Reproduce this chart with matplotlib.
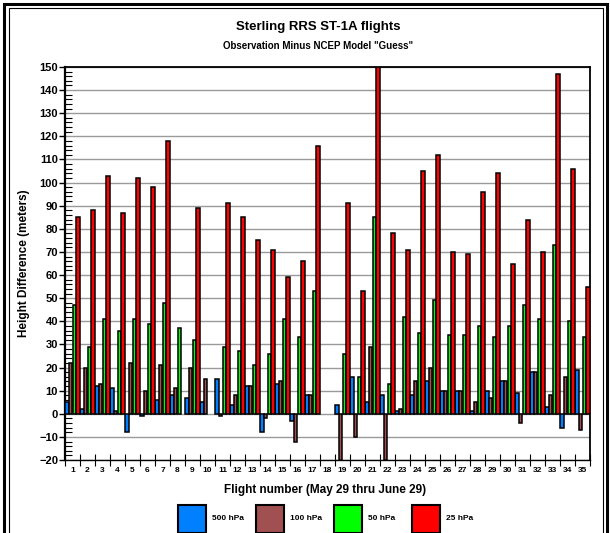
import numpy as np
import matplotlib
matplotlib.use("Agg")
import matplotlib.pyplot as plt
from matplotlib.patches import Rectangle
from matplotlib.ticker import MultipleLocator, FixedLocator, NullFormatter

plt.rcParams['font.family'] = ['Liberation Sans', 'DejaVu Sans']
plt.rcParams['font.weight'] = 'bold'

nan = np.nan
flights = list(range(1, 36))
series_names = ["500 hPa", "100 hPa", "50 hPa", "25 hPa"]
series_colors = ["#0080ff", "#a05050", "#00ff00", "#ff0000"]

hpa500 = [5, 2, 12, 11, -8, -1, 6, 8, 7, 5, 15, 4, 12, -8, 13, -3, 8, nan, 4, 16,
          5, 8, 1, 8, 14, 10, 10, 1, 10, 14, 9, 18, 3, -6, 19]
hpa100 = [22, 20, 13, 1, 22, 10, 21, 11, 20, 15, -1, 8, 12, -2, 14, -12, 8, nan, -20, -10,
          29, -20, 2, 14, 20, 10, 10, 5, 7, 14, -4, 18, 8, 16, -7]
hpa50 = [47, 29, 41, 36, 41, 39, 48, 37, 32, nan, 29, 27, 21, 26, 41, 33, 53, nan, 26, 16,
         85, 13, 42, 35, 49, 34, 34, 38, 33, 38, 47, 41, 73, 40, 33]
hpa25 = [85, 88, 103, 87, 102, 98, 118, nan, 89, nan, 91, 85, 75, 71, 59, 66, 116, nan, 91, 53,
         150, 78, 71, 105, 112, 70, 69, 96, 104, 65, 84, 70, 147, 106, 55]

title = "Sterling RRS ST-1A flights"
subtitle = 'Observation Minus NCEP Model "Guess"'
ylabel = "Height Difference (meters)"
xlabel = "Flight number (May 29 thru June 29)"

W, H = 610, 533
fig = plt.figure(figsize=(W / 100, H / 100), dpi=100)

def fx(px):
    return px / W

def fy(py):
    return 1 - py / H

# outer frame
fig.add_artist(Rectangle((fx(4), fy(560)), fx(603), fy(4) - fy(560), fill=False,
                         edgecolor='black', lw=2.2, transform=fig.transFigure))
fig.add_artist(Rectangle((fx(8.5), fy(560)), fx(594), fy(8.5) - fy(560), fill=False,
                         edgecolor='black', lw=0.8, transform=fig.transFigure))

ax = fig.add_axes([fx(65), fy(460), fx(590) - fx(65), fy(67) - fy(460)])

x = np.array(flights, dtype=float)
width = 0.25
all_series = [hpa500, hpa100, hpa50, hpa25]
for i, (vals, col) in enumerate(zip(all_series, series_colors)):
    offs = -0.375 + i * width
    ax.bar(x + offs, vals, width=width * 0.92, color=col, edgecolor='black', linewidth=1.1, zorder=3)

ax.set_xlim(0.5, 35.5)
ax.set_ylim(-20, 150)

ax.yaxis.set_major_locator(MultipleLocator(10))
ax.yaxis.set_minor_locator(MultipleLocator(2))
ax.grid(axis='y', which='major', color='#9a9a9a', lw=1.0, zorder=0)
ax.tick_params(axis='y', which='major', direction='out', length=4, width=1, labelsize=8, pad=1)
ax.tick_params(axis='y', which='minor', direction='in', length=5, width=0.8)
for lab in ax.get_yticklabels():
    lab.set_fontweight('bold')

ax.xaxis.set_major_locator(FixedLocator(np.arange(0.5, 36, 1)))
ax.xaxis.set_major_formatter(NullFormatter())
ax.xaxis.set_minor_locator(FixedLocator(x))
ax.set_xticklabels([str(f) for f in flights], minor=True)
ax.tick_params(axis='x', which='major', direction='inout', length=8, width=0.8)
ax.tick_params(axis='x', which='minor', length=0, labelsize=6, pad=5)
for lab in ax.get_xticklabels(minor=True):
    lab.set_fontweight('bold')

for s in ['left', 'top', 'right', 'bottom']:
    ax.spines[s].set_color('black')
ax.spines['left'].set_linewidth(1.6)
ax.spines['top'].set_linewidth(1.3)
ax.spines['right'].set_linewidth(1.3)
ax.spines['bottom'].set_linewidth(1.0)

fig.text(fx(318), fy(27), title, ha='center', va='center', fontsize=9.5, fontweight='bold')
fig.text(fx(318), fy(46), subtitle, ha='center', va='center', fontsize=7, fontweight='bold')
fig.text(fx(24), fy(263), ylabel, ha='center', va='center', rotation=90, fontsize=8.5, fontweight='bold')
fig.text(fx(325), fy(490), xlabel, ha='center', va='center', fontsize=8.5, fontweight='bold')

# legend
leg_x = [178, 256, 334, 412]
for name, col, lx in zip(series_names, series_colors, leg_x):
    fig.add_artist(Rectangle((fx(lx), fy(533)), fx(28), fy(505) - fy(533), facecolor=col,
                             edgecolor='black', lw=1.5, transform=fig.transFigure))
    fig.text(fx(lx + 34), fy(519), name, ha='left', va='center', fontsize=6, fontweight='bold')

fig.savefig("out.png", dpi=100)
